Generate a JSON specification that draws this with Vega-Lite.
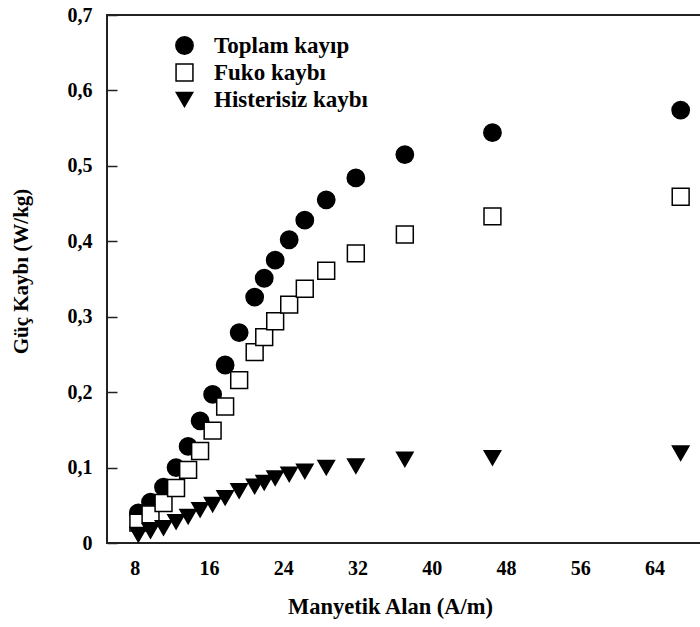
{
  "$schema": "https://vega.github.io/schema/vega-lite/v6.json",
  "width": 594,
  "height": 528,
  "autosize": {"type": "none"},
  "padding": {"left": 107, "top": 15, "right": 0, "bottom": 84},
  "background": "white",
  "config": {
    "view": {"stroke": "#222", "strokeWidth": 2},
    "font": "Liberation Serif",
    "legend": {
      "labelFont": "Liberation Serif", "labelFontWeight": "bold", "labelFontSize": 23,
      "labelColor": "black", "labelOffset": 18, "rowPadding": 3, "padding": 0,
      "symbolStrokeWidth": 1.5, "labelLimit": 300
    }
  },
  "data": {
    "values": [
      {"H": 8.38, "P": 0.040, "seri": "Toplam kayıp"},
      {"H": 9.69, "P": 0.054, "seri": "Toplam kayıp"},
      {"H": 11.09, "P": 0.074, "seri": "Toplam kayıp"},
      {"H": 12.44, "P": 0.100, "seri": "Toplam kayıp"},
      {"H": 13.74, "P": 0.128, "seri": "Toplam kayıp"},
      {"H": 15.03, "P": 0.162, "seri": "Toplam kayıp"},
      {"H": 16.38, "P": 0.197, "seri": "Toplam kayıp"},
      {"H": 17.73, "P": 0.236, "seri": "Toplam kayıp"},
      {"H": 19.24, "P": 0.279, "seri": "Toplam kayıp"},
      {"H": 20.91, "P": 0.326, "seri": "Toplam kayıp"},
      {"H": 21.94, "P": 0.351, "seri": "Toplam kayıp"},
      {"H": 23.12, "P": 0.375, "seri": "Toplam kayıp"},
      {"H": 24.63, "P": 0.402, "seri": "Toplam kayıp"},
      {"H": 26.31, "P": 0.428, "seri": "Toplam kayıp"},
      {"H": 28.62, "P": 0.455, "seri": "Toplam kayıp"},
      {"H": 31.81, "P": 0.484, "seri": "Toplam kayıp"},
      {"H": 37.09, "P": 0.515, "seri": "Toplam kayıp"},
      {"H": 46.53, "P": 0.544, "seri": "Toplam kayıp"},
      {"H": 66.81, "P": 0.574, "seri": "Toplam kayıp"},
      {"H": 8.38, "P": 0.027, "seri": "Fuko kaybı"},
      {"H": 9.69, "P": 0.038, "seri": "Fuko kaybı"},
      {"H": 11.09, "P": 0.053, "seri": "Fuko kaybı"},
      {"H": 12.44, "P": 0.073, "seri": "Fuko kaybı"},
      {"H": 13.74, "P": 0.097, "seri": "Fuko kaybı"},
      {"H": 15.03, "P": 0.122, "seri": "Fuko kaybı"},
      {"H": 16.38, "P": 0.149, "seri": "Fuko kaybı"},
      {"H": 17.73, "P": 0.181, "seri": "Fuko kaybı"},
      {"H": 19.24, "P": 0.216, "seri": "Fuko kaybı"},
      {"H": 20.91, "P": 0.253, "seri": "Fuko kaybı"},
      {"H": 21.94, "P": 0.273, "seri": "Fuko kaybı"},
      {"H": 23.12, "P": 0.294, "seri": "Fuko kaybı"},
      {"H": 24.63, "P": 0.316, "seri": "Fuko kaybı"},
      {"H": 26.31, "P": 0.337, "seri": "Fuko kaybı"},
      {"H": 28.62, "P": 0.361, "seri": "Fuko kaybı"},
      {"H": 31.81, "P": 0.384, "seri": "Fuko kaybı"},
      {"H": 37.09, "P": 0.409, "seri": "Fuko kaybı"},
      {"H": 46.53, "P": 0.433, "seri": "Fuko kaybı"},
      {"H": 66.81, "P": 0.459, "seri": "Fuko kaybı"},
      {"H": 8.38, "P": 0.011, "seri": "Histerisiz kaybı"},
      {"H": 9.69, "P": 0.016, "seri": "Histerisiz kaybı"},
      {"H": 11.09, "P": 0.020, "seri": "Histerisiz kaybı"},
      {"H": 12.44, "P": 0.028, "seri": "Histerisiz kaybı"},
      {"H": 13.74, "P": 0.035, "seri": "Histerisiz kaybı"},
      {"H": 15.03, "P": 0.044, "seri": "Histerisiz kaybı"},
      {"H": 16.38, "P": 0.051, "seri": "Histerisiz kaybı"},
      {"H": 17.73, "P": 0.060, "seri": "Histerisiz kaybı"},
      {"H": 19.24, "P": 0.069, "seri": "Histerisiz kaybı"},
      {"H": 20.91, "P": 0.075, "seri": "Histerisiz kaybı"},
      {"H": 21.94, "P": 0.080, "seri": "Histerisiz kaybı"},
      {"H": 23.12, "P": 0.086, "seri": "Histerisiz kaybı"},
      {"H": 24.63, "P": 0.091, "seri": "Histerisiz kaybı"},
      {"H": 26.31, "P": 0.095, "seri": "Histerisiz kaybı"},
      {"H": 28.62, "P": 0.100, "seri": "Histerisiz kaybı"},
      {"H": 31.81, "P": 0.102, "seri": "Histerisiz kaybı"},
      {"H": 37.09, "P": 0.111, "seri": "Histerisiz kaybı"},
      {"H": 46.53, "P": 0.113, "seri": "Histerisiz kaybı"},
      {"H": 66.81, "P": 0.119, "seri": "Histerisiz kaybı"}
    ]
  },
  "mark": {"type": "point", "strokeWidth": 1.5, "opacity": 1},
  "encoding": {
    "x": {
      "field": "H", "type": "quantitative",
      "scale": {"domain": [5, 69], "nice": false, "zero": false},
      "axis": {
        "title": "Manyetik Alan (A/m)",
        "values": [8, 16, 24, 32, 40, 48, 56, 64],
        "ticks": false, "domain": false, "grid": false,
        "labelFont": "Liberation Serif", "labelFontWeight": "bold", "labelFontSize": 20,
        "labelColor": "black", "labelPadding": 15,
        "titleFont": "Liberation Serif", "titleFontWeight": "bold", "titleFontSize": 22.5,
        "titleColor": "black", "titlePadding": 17, "titleX": 283
      }
    },
    "y": {
      "field": "P", "type": "quantitative",
      "scale": {"domain": [0, 0.7], "nice": false},
      "axis": {
        "title": "Güç Kaybı (W/kg)",
        "values": [0, 0.1, 0.2, 0.3, 0.4, 0.5, 0.6, 0.7],
        "labelExpr": "datum.value == 0 ? '0' : replace(format(datum.value, '.1f'), '.', ',')",
        "domain": false, "grid": false,
        "ticks": true, "tickSize": -10, "tickColor": "#222", "tickWidth": 1.5,
        "labelFont": "Liberation Serif", "labelFontWeight": "bold", "labelFontSize": 20,
        "labelColor": "black", "labelPadding": 25,
        "titleFont": "Liberation Serif", "titleFontWeight": "bold", "titleFontSize": 21,
        "titleColor": "black", "titlePadding": 36, "titleY": 256
      }
    },
    "shape": {
      "field": "seri", "type": "nominal",
      "scale": {"domain": ["Toplam kayıp", "Fuko kaybı", "Histerisiz kaybı"], "range": ["circle", "square", "triangle-down"]},
      "legend": {"title": null, "orient": "none", "legendX": 66, "legendY": 19}
    },
    "fill": {
      "field": "seri", "type": "nominal",
      "scale": {"domain": ["Toplam kayıp", "Fuko kaybı", "Histerisiz kaybı"], "range": ["black", "white", "black"]},
      "legend": {"title": null, "orient": "none", "legendX": 66, "legendY": 19}
    },
    "stroke": {
      "field": "seri", "type": "nominal",
      "scale": {"domain": ["Toplam kayıp", "Fuko kaybı", "Histerisiz kaybı"], "range": ["black", "black", "black"]},
      "legend": {"title": null, "orient": "none", "legendX": 66, "legendY": 19}
    },
    "size": {
      "field": "seri", "type": "nominal",
      "scale": {"domain": ["Toplam kayıp", "Fuko kaybı", "Histerisiz kaybı"], "range": [300, 270, 420]},
      "legend": {"title": null, "orient": "none", "legendX": 66, "legendY": 19}
    }
  }
}
